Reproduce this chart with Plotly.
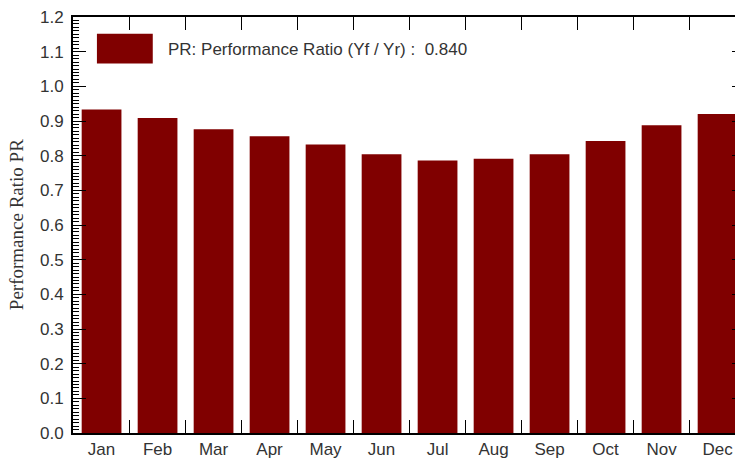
import plotly.graph_objects as go

months = ["Jan", "Feb", "Mar", "Apr", "May", "Jun", "Jul", "Aug", "Sep", "Oct", "Nov", "Dec"]
pr_values = [0.933, 0.909, 0.876, 0.856, 0.832, 0.804, 0.786, 0.791, 0.804, 0.842, 0.888, 0.920]
pr_annual = 0.840
legend_label = "PR: Performance Ratio (Yf / Yr) :\u00a0\u00a0"
y_title = "Performance Ratio PR"

BAR_COLOR = "#800000"
TXT = "#333333"

fig = go.Figure()
fig.add_trace(go.Bar(
    x=months, y=pr_values, width=0.71,
    marker=dict(color=BAR_COLOR, line=dict(width=0)),
    showlegend=False,
))

# page body has an 8px default margin; the plot's right border sits just past the window edge
fig.update_layout(
    width=739, height=454,
    margin=dict(l=65, r=0, t=5, b=29),
    paper_bgcolor="white", plot_bgcolor="white",
    font=dict(family="Liberation Sans, Arial, sans-serif", size=17, color=TXT),
)

fig.update_xaxes(
    type="category",
    range=[-0.51, 11.49],
    tickson="boundaries",
    ticks="inside", ticklen=13, tickwidth=1.2, tickcolor="black",
    showline=True, linewidth=2, linecolor="black",
    mirror="ticks",
    showgrid=False, zeroline=False,
    layer="below traces",
    tickfont=dict(size=17, color=TXT),
)

fig.update_yaxes(
    range=[0, 1.2],
    dtick=0.1, tick0=0, tickformat=".1f",
    ticks="inside", ticklen=13, tickwidth=1.2, tickcolor="black",
    minor=dict(dtick=0.01, ticks="inside", ticklen=6, tickwidth=1, tickcolor="black", showgrid=False),
    showline=True, linewidth=2, linecolor="black",
    mirror="allticks",
    showgrid=False, zeroline=False,
    ticklabelstandoff=4,
    ticklabeloverflow="allow",
    tickfont=dict(size=17, color=TXT),
)

# legend-like box and label
fig.add_shape(type="rect", xref="paper", yref="paper",
              x0=0.0356, x1=0.1187, y0=0.888, y1=0.9595,
              fillcolor=BAR_COLOR, line=dict(width=0))
fig.add_annotation(xref="paper", yref="paper", x=0.138, y=0.921,
                   xanchor="left", yanchor="middle", showarrow=False,
                   text=f"{legend_label}{pr_annual:.3f}",
                   font=dict(size=17, color=TXT))

# y axis title
fig.add_annotation(xref="paper", yref="paper", x=-0.0846, y=0.5,
                   xanchor="center", yanchor="middle", showarrow=False,
                   textangle=-90, text=y_title,
                   font=dict(family="Liberation Serif, Times New Roman, serif", size=19, color=TXT))

fig.write_html("out.html")
